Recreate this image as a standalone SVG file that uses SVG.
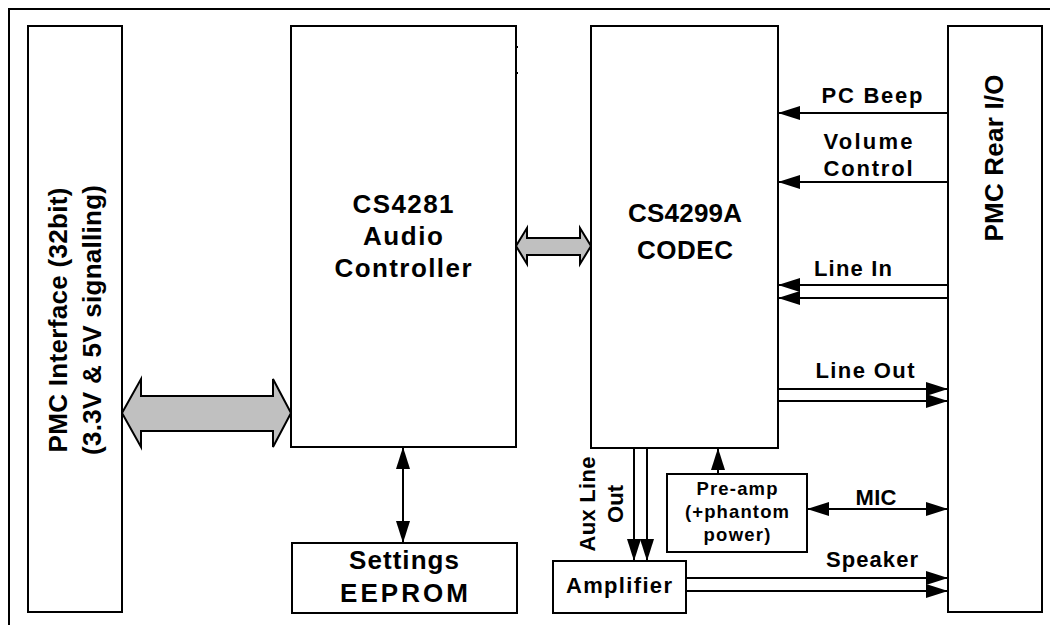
<svg xmlns="http://www.w3.org/2000/svg" width="1050" height="625" viewBox="0 0 1050 625">
<style>
.box{fill:#fff;stroke:#000;stroke-width:2}
.t{font-family:"Liberation Sans",Arial,sans-serif;font-weight:bold;fill:#000;text-anchor:middle}
.big{font-size:26px}
.mid{font-size:22px}
.sm{font-size:18.5px}
.ln{stroke:#000;stroke-width:2;fill:none}
.bus{fill:#c0c0c0;stroke:#000;stroke-width:2;stroke-linejoin:miter}
</style>
<defs>
<marker id="ah" viewBox="0 -7 22 14" refX="22" refY="0" markerWidth="22" markerHeight="14" markerUnits="userSpaceOnUse" orient="auto-start-reverse">
<path d="M0,-7 L22,0 L0,7 z" fill="#000"/>
</marker>
</defs>
<rect width="1050" height="625" fill="#fff"/>
<path d="M9,626 V9 H1051" fill="none" stroke="#000" stroke-width="2"/>

<g id="pmc-interface">
<rect class="box" x="28" y="26" width="94" height="586"/>
<text class="t big" transform="translate(67,320) rotate(-90)" textLength="265">PMC Interface (32bit)</text>
<text class="t big" transform="translate(101,320) rotate(-90)" textLength="270">(3.3V &amp; 5V signalling)</text>
</g>

<g id="cs4281">
<rect class="box" x="291" y="26" width="225" height="421"/>
<text class="t big" x="403" y="213" textLength="101">CS4281</text>
<text class="t big" x="403" y="245" textLength="80">Audio</text>
<text class="t big" x="403" y="277" textLength="137">Controller</text>
<path d="M516,47 h2 M516,73 h2" class="ln" stroke-width="1.5"/>
</g>

<g id="eeprom">
<rect class="box" x="292" y="543" width="225" height="70"/>
<text class="t big" x="404" y="569" textLength="110">Settings</text>
<text class="t big" x="404" y="602" textLength="128">EEPROM</text>
</g>

<g id="cs4299a">
<rect class="box" x="591" y="26" width="187" height="422"/>
<text class="t big" x="685" y="222" textLength="114">CS4299A</text>
<text class="t big" x="685" y="259" textLength="96">CODEC</text>
</g>

<g id="preamp">
<rect class="box" x="667" y="474" width="140" height="78"/>
<text class="t sm" x="737" y="495" textLength="81">Pre-amp</text>
<text class="t sm" x="737" y="518" textLength="104">(+phantom</text>
<text class="t sm" x="737" y="541" textLength="67">power)</text>
</g>

<g id="amplifier">
<rect class="box" x="553" y="561" width="133" height="52"/>
<text class="t mid" x="619" y="593" textLength="106">Amplifier</text>
</g>

<g id="pmc-rear">
<rect class="box" x="948" y="26" width="94" height="586"/>
<text class="t big" transform="translate(1003,158) rotate(-90)" textLength="167">PMC Rear I/O</text>
</g>

<g id="connectors">
<path class="bus" d="M122,413 L141,379 L141,396 L273,396 L273,379 L291,413 L273,447 L273,431 L141,431 L141,447 Z"/>
<path class="bus" d="M516,246 L527,228 L527,238 L580,238 L580,228 L591,246 L580,264 L580,255 L527,255 L527,264 Z"/>
<line class="ln" x1="403" y1="447" x2="403" y2="543" marker-start="url(#ah)" marker-end="url(#ah)"/>

<line class="ln" x1="948" y1="113" x2="778" y2="113" marker-end="url(#ah)"/>
<line class="ln" x1="948" y1="182" x2="778" y2="182" marker-end="url(#ah)"/>
<line class="ln" x1="948" y1="285" x2="778" y2="285" marker-end="url(#ah)"/>
<line class="ln" x1="948" y1="298" x2="778" y2="298" marker-end="url(#ah)"/>
<line class="ln" x1="778" y1="389" x2="948" y2="389" marker-end="url(#ah)"/>
<line class="ln" x1="778" y1="401" x2="948" y2="401" marker-end="url(#ah)"/>
<line class="ln" x1="807" y1="509" x2="948" y2="509" marker-start="url(#ah)" marker-end="url(#ah)"/>
<line class="ln" x1="686" y1="578" x2="948" y2="578" marker-end="url(#ah)"/>
<line class="ln" x1="686" y1="591" x2="948" y2="591" marker-end="url(#ah)"/>
<line class="ln" x1="718" y1="474" x2="718" y2="448" marker-end="url(#ah)"/>
<line class="ln" x1="634" y1="448" x2="634" y2="561" marker-end="url(#ah)"/>
<line class="ln" x1="647" y1="448" x2="647" y2="561" marker-end="url(#ah)"/>

<text class="t mid" x="872" y="103" textLength="101">PC Beep</text>
<text class="t mid" x="868" y="149" textLength="89">Volume</text>
<text class="t mid" x="868" y="176" textLength="89">Control</text>
<text class="t mid" x="853" y="276" textLength="78">Line In</text>
<text class="t mid" x="865" y="378" textLength="99">Line Out</text>
<text class="t mid" x="876" y="505" textLength="41">MIC</text>
<text class="t mid" x="872" y="567" textLength="92">Speaker</text>
<text class="t mid" transform="translate(595,504) rotate(-90)" textLength="95">Aux Line</text>
<text class="t mid" transform="translate(623,504) rotate(-90)" textLength="38">Out</text>
</g>
</svg>
